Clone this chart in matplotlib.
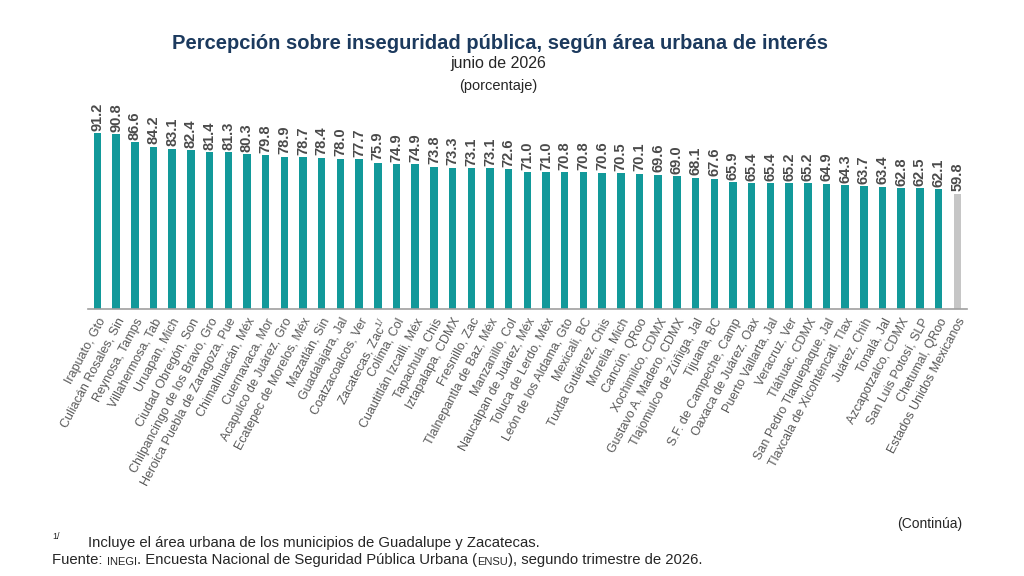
import matplotlib.pyplot as plt
import numpy as np

plt.rcParams['font.family'] = ['Liberation Sans', 'DejaVu Sans']

# area urbana y porcentaje de percepcion de inseguridad
areas = ['Irapuato, Gto', 'Culiacán Rosales, Sin', 'Reynosa, Tamps', 'Villahermosa, Tab',
         'Uruapan, Mich', 'Ciudad Obregón, Son', 'Chilpancingo de los Bravo, Gro',
         'Heroica Puebla de Zaragoza, Pue', 'Chimalhuacán, Méx', 'Cuernavaca, Mor',
         'Acapulco de Juárez, Gro', 'Ecatepec de Morelos, Méx', 'Mazatlán, Sin',
         'Guadalajara, Jal', 'Coatzacoalcos, Ver', 'Zacatecas, Zac$^{\\mathregular{1/}}$',
         'Colima, Col', 'Cuautitlán Izcalli, Méx', 'Tapachula, Chis', 'Iztapalapa, CDMX',
         'Fresnillo, Zac', 'Tlalnepantla de Baz, Méx', 'Manzanillo, Col',
         'Naucalpan de Juárez, Méx', 'Toluca de Lerdo, Méx', 'León de los Aldama, Gto',
         'Mexicali, BC', 'Tuxtla Gutiérrez, Chis', 'Morelia, Mich', 'Cancún, QRoo',
         'Xochimilco, CDMX', 'Gustavo A. Madero, CDMX', 'Tlajomulco de Zúñiga, Jal',
         'Tijuana, BC', 'S.F. de Campeche, Camp', 'Oaxaca de Juárez, Oax',
         'Puerto Vallarta, Jal', 'Veracruz, Ver', 'Tláhuac, CDMX',
         'San Pedro Tlaquepaque, Jal', 'Tlaxcala de Xicohténcatl, Tlax', 'Juárez, Chih',
         'Tonalá, Jal', 'Azcapotzalco, CDMX', 'San Luis Potosí, SLP', 'Chetumal, QRoo',
         'Estados Unidos Mexicanos']
valores = [91.2, 90.8, 86.6, 84.2, 83.1, 82.4, 81.4, 81.3, 80.3, 79.8, 78.9, 78.7,
           78.4, 78.0, 77.7, 75.9, 74.9, 74.9, 73.8, 73.3, 73.1, 73.1, 72.6, 71.0,
           71.0, 70.8, 70.8, 70.6, 70.5, 70.1, 69.6, 69.0, 68.1, 67.6, 65.9, 65.4,
           65.4, 65.2, 65.2, 64.9, 64.3, 63.7, 63.4, 62.8, 62.5, 62.1, 59.8]

teal = '#12999a'
gris = '#c6c6c6'
colores = [teal] * (len(valores) - 1) + [gris]

fig = plt.figure(figsize=(10.24, 5.76), dpi=100)
ax = fig.add_axes([0.086, 0.4635, 0.858, 0.335])

x = np.arange(len(valores))
ax.bar(x, valores, width=0.4, color=colores)

for xi, v in zip(x, valores):
    ax.text(xi, v + 1.2, '{:.1f}'.format(v), rotation=90, ha='center', va='bottom',
            fontsize=10.5, fontweight='bold', color='#4a4a4a')

ax.set_xlim(-0.5, len(valores) - 0.5)
ax.set_ylim(0, 100)
ax.set_yticks([])
ax.set_xticks(x)
ax.set_xticklabels(areas, rotation=62, ha='right', rotation_mode='anchor',
                   fontsize=9, color='#595959')
ax.tick_params(axis='x', length=0, pad=5)
for s in ['top', 'right', 'left']:
    ax.spines[s].set_visible(False)
ax.spines['bottom'].set_color('#a0a0a0')
ax.spines['bottom'].set_linewidth(1.2)

# titulos
fig.text(0.488, 0.925, 'Percepción sobre inseguridad pública, según área urbana de interés',
         ha='center', va='center', fontsize=14.5, fontweight='bold', color='#1c3a5e')
fig.text(0.487, 0.889, 'junio de 2026', ha='center', va='center', fontsize=11.5, color='#262626')
fig.text(0.487, 0.851, '(porcentaje)', ha='center', va='center', fontsize=10.5, color='#262626')

# notas
fig.text(0.94, 0.09, '(Continúa)', ha='right', va='center', fontsize=10, color='#262626')
fig.text(0.051, 0.068, '1/', ha='left', va='center', fontsize=6.5, color='#262626')
fig.text(0.086, 0.058, 'Incluye el área urbana de los municipios de Guadalupe y Zacatecas.',
         ha='left', va='center', fontsize=10.7, color='#262626')
t = fig.text(0.051, 0.02, 'Fuente: ', ha='left', va='baseline', fontsize=10.7, color='#262626')
partes = [('INEGI', 8), ('. Encuesta Nacional de Seguridad Pública Urbana (', 10.7),
          ('ENSU', 8), ('), segundo trimestre de 2026.', 10.7)]
for txt, fs in partes:
    t = ax.annotate(txt, xy=(1, 0), xycoords=t, ha='left', va='bottom',
                    fontsize=fs, color='#262626', annotation_clip=False)

fig.savefig('out.png', dpi=100)
